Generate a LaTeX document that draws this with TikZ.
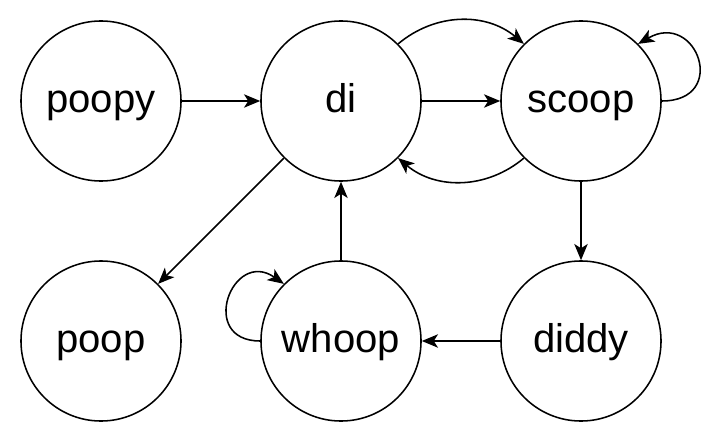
\documentclass[tikz,border=0pt]{standalone}
\usepackage{fontspec}
\setmainfont{Liberation Sans}
\usepackage{tikz}
\usetikzlibrary{arrows.meta}
\tikzstyle{state} = [circle,draw,line width=1.1pt,minimum size=4cm,inner sep=0pt,text height=16pt,text depth=0pt,font=\fontsize{28.5}{34}\selectfont]
\tikzstyle{arrow} = [line width=1.1pt,-{Stealth[length=11.5pt,width=9.5pt,inset=3pt]}]

\begin{document}
\begin{tikzpicture}[x=0.025cm,y=0.025cm]
\useasboundingbox (0,0) rectangle (722,442);

% States
\node[state] (poopy) at (101,341) {poopy};
\node[state] (di) at (341,341) {di};
\node[state] (scoop) at (581,341) {scoop};
\node[state] (poop) at (101,101) {poop};
\node[state] (whoop) at (341,101) {whoop};
\node[state] (diddy) at (581,101) {diddy};

% Straight transitions
\draw[arrow] (poopy) -- (di);
\draw[arrow] (di) -- (scoop);
\draw[arrow] (di.225) -- (poop.45);
\draw[arrow] (whoop) -- (di);
\draw[arrow] (scoop) -- (diddy);
\draw[arrow] (diddy) -- (whoop);

% Curved transitions
\draw[arrow] (di.45) to[out=40,in=140] (scoop.135);
\draw[arrow] (scoop.225) to[out=220,in=-40] (di.-45);

% Loops
\draw[arrow] (scoop.east) to[out=0,in=30,looseness=2.8] (scoop.45);
\draw[arrow] (whoop.west) to[out=180,in=145,looseness=2.6] (whoop.135);
\end{tikzpicture}
\end{document}
